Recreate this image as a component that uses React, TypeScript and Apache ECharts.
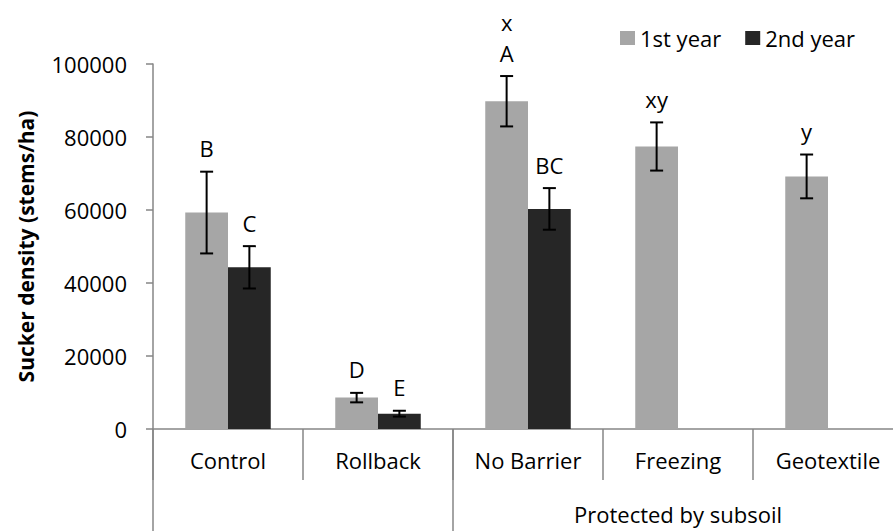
import React, { useEffect, useRef } from "react";
import * as echarts from "echarts";

const categories = ["Control", "Rollback", "No Barrier", "Freezing", "Geotextile"];
const seriesNames = ["1st year", "2nd year"];
const year1 = [59300, 8600, 89800, 77400, 69200];
const year2: (number | null)[] = [44300, 4200, 60300, null, null];
const err1 = [11200, 1300, 6900, 6600, 6000];
const err2: (number | null)[] = [5800, 800, 5700, null, null];
const letters1 = ["B", "D", "x\nA", "xy", "y"];
const letters2 = ["C", "E", "BC", "", ""];
const groupLabels = ["", "Protected by subsoil"];
const groupBounds = [0, 2, 5];
const yTicks = { min: 0, max: 100000, interval: 20000 };

const FONT = "Open Sans";
const GAP = 0.43;

export default function App() {
  const ref = useRef<HTMLDivElement>(null);
  useEffect(() => {
    document.body.style.margin = "0";
    const chart = echarts.init(ref.current!, null, { renderer: "svg" });

    const makeErr = (vals: (number | null)[], errs: (number | null)[], letters: string[]) =>
      vals
        .map((v, i) => (v == null ? null : [i, v, errs[i] ?? 0, letters[i]]))
        .filter((d) => d != null);

    const errSeries = (data: any[], sign: number) => ({
      type: "custom",
      xAxisIndex: 0,
      yAxisIndex: 0,
      clip: false,
      z: 5,
      data,
      renderItem: (params: any, api: any) => {
        const idx = api.value(0);
        const v = api.value(1);
        const e = api.value(2);
        const letter = data[params.dataIndex][3];
        const band = api.size([1, 0])[0];
        const bw = (band * (1 - GAP)) / 2;
        const cx = api.coord([idx, 0])[0] + (sign * bw) / 2;
        const top = api.coord([idx, v + e])[1];
        const bot = api.coord([idx, v - e])[1];
        const cap = 6.5;
        const ls = { stroke: "#000", lineWidth: 2 };
        return {
          type: "group",
          children: [
            { type: "line", shape: { x1: cx, y1: top, x2: cx, y2: bot }, style: ls },
            { type: "line", shape: { x1: cx - cap, y1: top, x2: cx + cap, y2: top }, style: ls },
            { type: "line", shape: { x1: cx - cap, y1: bot, x2: cx + cap, y2: bot }, style: ls },
            {
              type: "text",
              x: cx,
              y: top - 8,
              style: {
                text: letter,
                fill: "#000",
                fontSize: 22,
                fontFamily: FONT,
                lineHeight: 31,
                align: "center",
                verticalAlign: "bottom",
              },
            },
          ],
        };
      },
    });

    const groupCenters = groupLabels.map((_, i) => (groupBounds[i] + groupBounds[i + 1]) / 2);

    chart.setOption({
      animation: false,
      textStyle: { fontFamily: FONT },
      grid: { left: 153, top: 64, width: 750, height: 365, containLabel: false },
      legend: {
        data: seriesNames,
        left: 615,
        top: 22,
        icon: "rect",
        itemWidth: 15,
        itemHeight: 14,
        itemGap: 24,
        textStyle: { fontSize: 22, color: "#000", fontFamily: FONT },
      },
      xAxis: [
        {
          type: "category",
          data: categories,
          axisLine: { lineStyle: { color: "#868686", width: 1.5 } },
          axisTick: { show: true, length: 51, interval: 0, alignWithLabel: false, lineStyle: { color: "#868686", width: 1.5 } },
          axisLabel: { interval: 0, fontSize: 22, color: "#000", margin: 20, fontFamily: FONT },
        },
        {
          type: "value",
          position: "bottom",
          min: groupBounds[0],
          max: groupBounds[groupBounds.length - 1],
          axisLine: { show: false },
          splitLine: { show: false },
          axisTick: { show: true, length: 102, customValues: groupBounds, lineStyle: { color: "#868686", width: 1.5 } },
          axisLabel: {
            customValues: groupCenters,
            fontSize: 22,
            color: "#000",
            margin: 74,
            fontFamily: FONT,
            formatter: (val: number) => {
              const i = groupCenters.findIndex((c) => Math.abs(c - val) < 1e-6);
              return i >= 0 ? groupLabels[i] : "";
            },
          },
        },
      ],
      yAxis: {
        type: "value",
        min: yTicks.min,
        max: yTicks.max,
        interval: yTicks.interval,
        name: "Sucker density (stems/ha)",
        nameLocation: "middle",
        nameGap: 117,
        nameTextStyle: { fontSize: 21, fontWeight: "bold", color: "#000", fontFamily: FONT },
        splitLine: { show: false },
        axisLine: { show: true, lineStyle: { color: "#868686", width: 1.5 } },
        axisTick: { show: true, length: 7, lineStyle: { color: "#868686", width: 1.5 } },
        axisLabel: {
          fontSize: 22,
          color: "#000",
          margin: 26,
          fontFamily: FONT,
          formatter: (v: number) => String(v),
        },
      },
      series: [
        {
          name: seriesNames[0],
          type: "bar",
          data: year1,
          barGap: "0%",
          barCategoryGap: `${GAP * 100}%`,
          itemStyle: { color: "#a6a6a6" },
        },
        {
          name: seriesNames[1],
          type: "bar",
          data: year2,
          barGap: "0%",
          barCategoryGap: `${GAP * 100}%`,
          itemStyle: { color: "#262626" },
        },
        errSeries(makeErr(year1, err1, letters1), -1),
        errSeries(makeErr(year2, err2, letters2), 1),
      ],
    });
    return () => chart.dispose();
  }, []);
  return (
    <div style={{ width: 893, height: 531, overflow: "hidden", position: "relative" }}>
      <div ref={ref} style={{ width: 930, height: 531 }} />
    </div>
  );
}
